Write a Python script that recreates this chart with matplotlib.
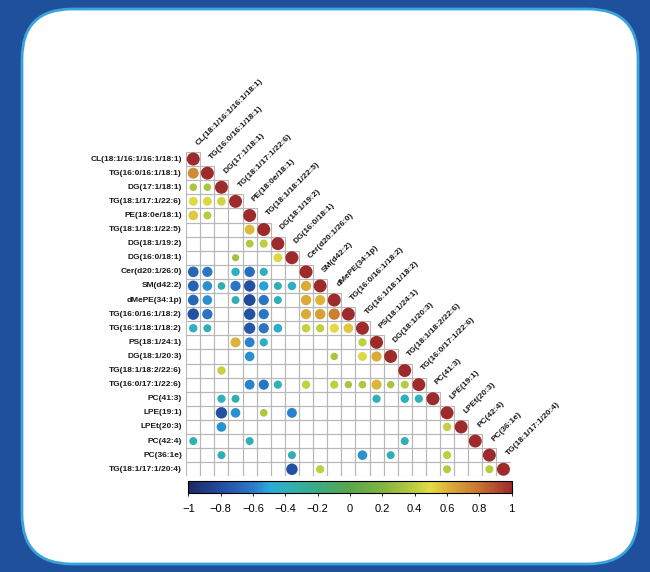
import numpy as np
import matplotlib
matplotlib.use("Agg")
import matplotlib.pyplot as plt
from matplotlib.colors import LinearSegmentedColormap, Normalize
from matplotlib.patches import Circle, Rectangle, FancyBboxPatch
from matplotlib.collections import PatchCollection
from matplotlib.cm import ScalarMappable

plt.rcParams["font.family"] = ["Liberation Sans", "DejaVu Sans"]

# lipid species, same order for rows and columns
lipids = [
    "CL(18:1/16:1/16:1/18:1)", "TG(16:0/16:1/18:1)", "DG(17:1/18:1)",
    "TG(18:1/17:1/22:6)", "PE(18:0e/18:1)", "TG(18:1/18:1/22:5)",
    "DG(18:1/19:2)", "DG(16:0/18:1)", "Cer(d20:1/26:0)", "SM(d42:2)",
    "dMePE(34:1p)", "TG(16:0/16:1/18:2)", "TG(16:1/18:1/18:2)",
    "PS(18:1/24:1)", "DG(18:1/20:3)", "TG(18:1/18:2/22:6)",
    "TG(16:0/17:1/22:6)", "PC(41:3)", "LPE(19:1)", "LPEt(20:3)",
    "PC(42:4)", "PC(36:1e)", "TG(18:1/17:1/20:4)",
]

# significant off-diagonal correlations (1-based row, col, r); blanks are omitted
pair_row = [2, 3, 3, 4, 4, 4, 5, 5, 6, 7, 7, 8, 8,
            9, 9, 9, 9, 9,
            10, 10, 10, 10, 10, 10, 10, 10, 10,
            11, 11, 11, 11, 11, 11, 11, 11,
            12, 12, 12, 12, 12, 12, 12,
            13, 13, 13, 13, 13, 13, 13, 13, 13,
            14, 14, 14, 14,
            15, 15, 15, 15,
            16,
            17, 17, 17, 17, 17, 17, 17, 17, 17, 17,
            18, 18, 18, 18, 18,
            19, 19, 19, 19,
            20, 20,
            21, 21, 21,
            22, 22, 22, 22, 22,
            23, 23, 23, 23]
pair_col = [1, 1, 2, 1, 2, 3, 1, 2, 5, 5, 6, 4, 7,
            1, 2, 4, 5, 6,
            1, 2, 3, 4, 5, 6, 7, 8, 9,
            1, 2, 4, 5, 6, 7, 9, 10,
            1, 2, 5, 6, 9, 10, 11,
            1, 2, 5, 6, 7, 9, 10, 11, 12,
            4, 5, 6, 13,
            5, 11, 13, 14,
            3,
            5, 6, 7, 9, 11, 12, 13, 14, 15, 16,
            3, 4, 14, 16, 17,
            3, 4, 6, 8,
            3, 19,
            1, 5, 16,
            3, 8, 13, 15, 19,
            8, 10, 19, 22]
pair_r = [0.72, 0.34, 0.34, 0.48, 0.47, 0.45, 0.55, 0.38, 0.58, 0.36, 0.40, 0.30, 0.47,
          -0.68, -0.62, -0.42, -0.65, -0.40,
          -0.70, -0.55, -0.35, -0.62, -0.78, -0.52, -0.38, -0.42, 0.62,
          -0.68, -0.55, -0.38, -0.82, -0.62, -0.38, 0.63, 0.60,
          -0.78, -0.63, -0.78, -0.62, 0.62, 0.66, 0.76,
          -0.42, -0.38, -0.75, -0.62, -0.45, 0.42, 0.40, 0.50, 0.55,
          0.60, -0.58, -0.40, 0.40,
          -0.55, 0.33, 0.47, 0.62,
          0.42,
          -0.58, -0.62, -0.40, 0.42, 0.40, 0.33, 0.35, 0.60, 0.33, 0.38,
          -0.40, -0.38, -0.40, -0.42, -0.40,
          -0.78, -0.55, 0.35, -0.58,
          -0.55, 0.42,
          -0.38, -0.38, -0.38,
          -0.38, -0.38, -0.55, -0.38, 0.40,
          -0.78, 0.40, 0.38, 0.38]

cbar_ticks = [-1, -0.8, -0.6, -0.4, -0.2, 0, 0.2, 0.4, 0.6, 0.8, 1]
cbar_labels = ["\u22121", "\u22120.8", "\u22120.6", "\u22120.4", "\u22120.2",
               "0", "0.2", "0.4", "0.6", "0.8", "1"]

cmap = LinearSegmentedColormap.from_list("corr", [
    (0.00, "#1c2a66"), (0.10, "#224d9e"), (0.20, "#2b7bc8"),
    (0.25, "#29aadc"), (0.30, "#2fb0bc"), (0.40, "#3caa80"),
    (0.50, "#59a84a"), (0.60, "#80b43e"), (0.70, "#bcce40"),
    (0.75, "#e6dc44"), (0.80, "#dcb438"), (0.90, "#c87431"),
    (1.00, "#9e2b2b")])
norm = Normalize(-1, 1)

W, H = 650, 572
fig = plt.figure(figsize=(W / 100, H / 100), dpi=100)
fig.patch.set_facecolor("#1f509c")

# background panel in pixel coordinates
bg = fig.add_axes([0, 0, 1, 1])
bg.set_xlim(0, W)
bg.set_ylim(H, 0)
bg.axis("off")
bg.add_patch(FancyBboxPatch((22, 9), 616, 555,
                            boxstyle="round,pad=0,rounding_size=50",
                            facecolor="white", edgecolor="#3ba3dc", lw=2))

n = len(lipids)
cell = 14.1
left, top = 186.2, 152.0
ax = fig.add_axes([left / W, (H - top - n * cell) / H, n * cell / W, n * cell / H])
ax.set_xlim(0.5, n + 0.5)
ax.set_ylim(n + 0.5, 0.5)
ax.axis("off")

for i in range(1, n + 1):
    for j in range(1, i + 1):
        ax.add_patch(Rectangle((j - 0.5, i - 0.5), 1, 1, facecolor="none",
                               edgecolor="#b8b8b8", lw=0.8))

rows = list(range(1, n + 1)) + pair_row
cols = list(range(1, n + 1)) + pair_col
vals = [1.0] * n + pair_r
circles = [Circle((c, r), 0.46 * np.sqrt(abs(v))) for r, c, v in zip(rows, cols, vals)]
pc = PatchCollection(circles, cmap=cmap, norm=norm, edgecolor="none")
pc.set_array(np.array(vals))
ax.add_collection(pc)

for i, name in enumerate(lipids, start=1):
    ax.text(0.2, i, name, ha="right", va="center", fontsize=6,
            fontweight="bold", color="#1a1a1a")
    ax.text(i + 0.25, i - 1.05, name, ha="left", va="center", rotation=45,
            rotation_mode="anchor", fontsize=6, fontweight="bold", color="#1a1a1a")

cax = fig.add_axes([188.3 / W, (H - 493.3) / H, 323.4 / W, 12.6 / H])
cb = fig.colorbar(ScalarMappable(norm=norm, cmap=cmap), cax=cax, orientation="horizontal")
cb.set_ticks(cbar_ticks)
cb.set_ticklabels(cbar_labels)
cb.outline.set_linewidth(0.8)
cax.tick_params(length=2, width=0.6, labelsize=8, pad=6)

fig.savefig("out.png", dpi=100, facecolor=fig.get_facecolor())
